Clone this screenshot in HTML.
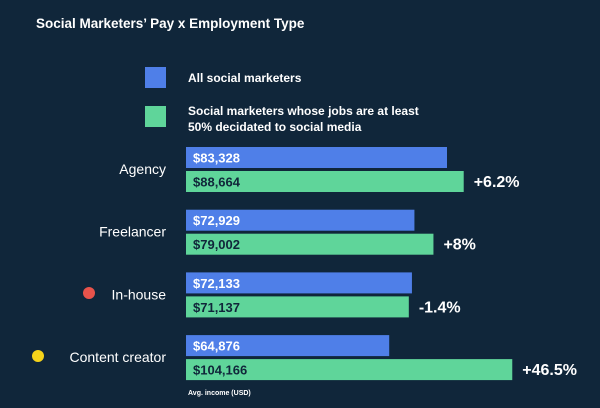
<!DOCTYPE html>
<html><head><meta charset="utf-8"><style>
body{margin:0;background:#10263a;}
svg{display:block;font-family:"Liberation Sans",sans-serif;}
</style></head><body>
<svg id="c" width="600" height="408">
<rect width="600" height="408" fill="#10263a"/>
<text x="36" y="28" fill="#fff" font-size="13.5" font-weight="bold">Social Marketers’ Pay x Employment Type</text>
<rect x="145" y="67" width="21" height="21" fill="#4f7fe8"/>
<text x="188" y="82" fill="#fff" font-size="12" font-weight="bold">All social marketers</text>
<rect x="145" y="106" width="21" height="21" fill="#5fd59a"/>
<text x="188" y="115" fill="#fff" font-size="12" font-weight="bold">Social marketers whose jobs are at least</text>
<text x="188" y="131" fill="#fff" font-size="12" font-weight="bold">50% decidated to social media</text>
<circle cx="89" cy="293" r="6" fill="#e8534b"/>
<circle cx="38" cy="356" r="6" fill="#f5d31a"/>
<text x="188" y="395" fill="#fff" font-size="7" font-weight="bold">Avg. income (USD)</text>
<g id="bars"></g>
</svg>
<script>
const categories=["Agency","Freelancer","In-house","Content creator"];
const allValues=[83328,88664*0+72929,72133,64876];
allValues[0]=83328;
const dedicatedValues=[88664,79002,71137,104166];
const changeLabels=["+6.2%","+8%","-1.4%","+46.5%"];
const x0=186, pxPer=261/83328;
const xs=v=>v*pxPer;
const rowY=i=>147+i*62.7;
const g=document.getElementById('bars');
const NS="http://www.w3.org/2000/svg";
function mk(t,a){const e=document.createElementNS(NS,t);for(const k in a)e.setAttribute(k,a[k]);g.appendChild(e);return e;}
const fmt=v=>"$"+v.toLocaleString("en-US");
categories.forEach((c,i)=>{
 const y=rowY(i);
 const cl=mk('text',{x:166,y:y+27,fill:'#fff','font-size':14,'text-anchor':'end'});cl.textContent=c;
 
 
 const b=mk('rect',{x:x0,y:y,width:xs(allValues[i]),height:21,fill:'#4f7fe8'});
 
 
 const bt=mk('text',{x:x0+7,y:y+15.5,fill:'#fff','font-size':13,'font-weight':'bold'});bt.textContent=fmt(allValues[i]);
 
 
 const gb=mk('rect',{x:x0,y:y+24,width:xs(dedicatedValues[i]),height:21,fill:'#5fd59a'});
 
 
 const gt=mk('text',{x:x0+7,y:y+39.5,fill:'#10263a','font-size':13,'font-weight':'bold'});gt.textContent=fmt(dedicatedValues[i]);
 
 
 const pt=mk('text',{x:x0+xs(dedicatedValues[i])+10,y:y+40,fill:'#fff','font-size':16,'font-weight':'bold'});pt.textContent=changeLabels[i];
 
 
});
</script>
</body></html>
